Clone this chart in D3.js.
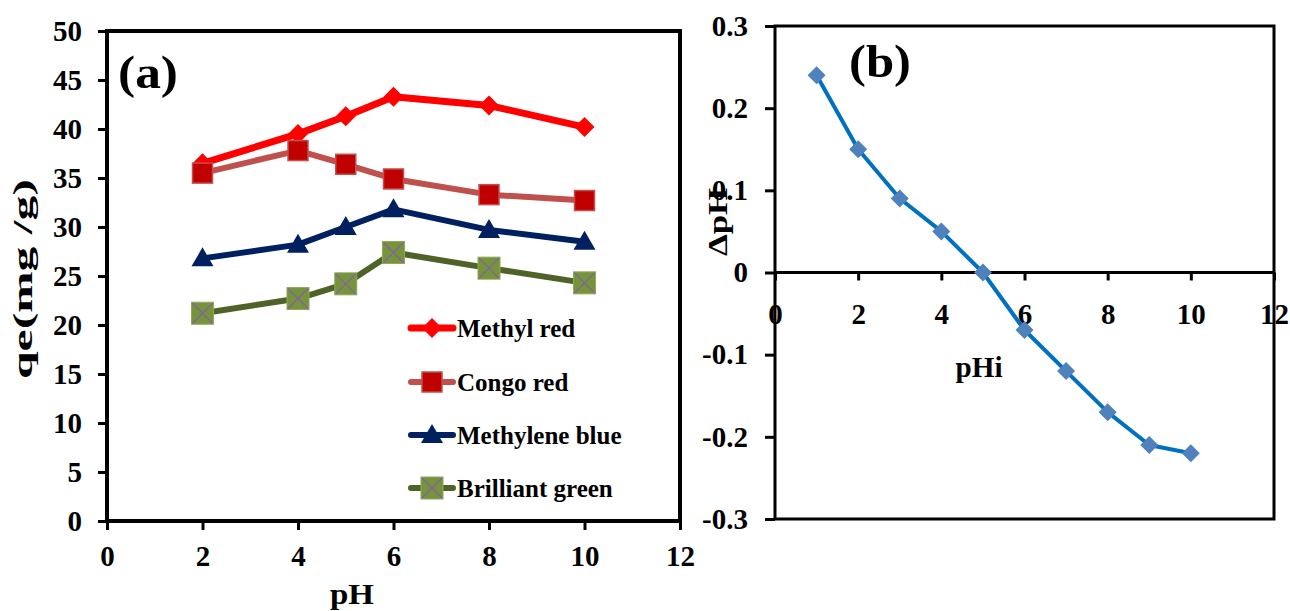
<!DOCTYPE html>
<html>
<head>
<meta charset="utf-8">
<script src="https://cdn.jsdelivr.net/npm/d3@7"></script>
<style>
  body { margin: 0; background: #fff; }
  svg { display: block; font-family: "Liberation Serif", "Times New Roman", serif; font-weight: bold; }
  svg text { font-family: "Liberation Serif", "Times New Roman", serif; font-weight: bold; }
</style>
</head>
<body>
<svg id="chart" width="1290" height="611"></svg>
<script>
// panel (a): adsorption capacity vs pH
const phValues = [2, 4, 5, 6, 8, 10];
const methylRed = [36.5, 39.5, 41.3, 43.3, 42.4, 40.2];
const congoRed = [35.5, 37.8, 36.4, 34.9, 33.3, 32.7];
const methyleneBlue = [26.8, 28.2, 30.0, 31.8, 29.7, 28.5];
const brilliantGreen = [21.2, 22.7, 24.2, 27.4, 25.8, 24.3];
const seriesNames = ["Methyl red", "Congo red", "Methylene blue", "Brilliant green"];
const qeTicks = [0, 5, 10, 15, 20, 25, 30, 35, 40, 45, 50];
const phTicks = [0, 2, 4, 6, 8, 10, 12];

// panel (b): point of zero charge
const phInitial = [1, 2, 3, 4, 5, 6, 7, 8, 9, 10];
const deltaPh = [0.24, 0.15, 0.09, 0.05, 0.0, -0.07, -0.12, -0.17, -0.21, -0.22];
const deltaTicks = [-0.3, -0.2, -0.1, 0, 0.1, 0.2, 0.3];
const phiTicks = [0, 2, 4, 6, 8, 10, 12];

const svg = d3.select("#chart");

const axisStyle = g => {
    g.attr("font-family", null).attr("font-size", null);
    g.select(".domain").remove();
    g.selectAll(".tick line").attr("stroke", "#000").attr("stroke-width", 3);
    g.selectAll(".tick text")
        .attr("fill", "#000")
        .attr("font-size", 29)
        .style("font-size", "29px");
};

// ---------- panel (a) ----------
const a = { left: 107, right: 680, top: 31, bottom: 521 };
const xA = d3.scaleLinear().domain([0, 12]).range([a.left, a.right]);
const yA = d3.scaleLinear().domain([0, 50]).range([a.bottom, a.top]);

const gA = svg.append("g");

gA.append("g")
    .attr("transform", `translate(${a.left},0)`)
    .call(d3.axisLeft(yA).tickValues(qeTicks).tickSize(9).tickPadding(16).tickFormat(d => String(d)))
    .call(axisStyle);

gA.append("g")
    .attr("transform", `translate(0,${a.bottom})`)
    .call(d3.axisBottom(xA).tickValues(phTicks).tickSize(9).tickPadding(15).tickFormat(d => String(d)))
    .call(axisStyle);

gA.append("rect")
    .attr("x", a.left).attr("y", a.top)
    .attr("width", a.right - a.left).attr("height", a.bottom - a.top)
    .attr("fill", "none").attr("stroke", "#000").attr("stroke-width", 4);

gA.append("text")
    .attr("transform", `translate(32,279) rotate(-90)`)
    .attr("text-anchor", "middle")
    .attr("textLength", 200)
    .attr("lengthAdjust", "spacingAndGlyphs")
    .style("font-size", "27px")
    .text("qe(mg /g)");

gA.append("text")
    .attr("x", 352).attr("y", 604)
    .attr("text-anchor", "middle")
    .attr("textLength", 44)
    .attr("lengthAdjust", "spacingAndGlyphs")
    .style("font-size", "30px")
    .text("pH");

gA.append("text")
    .attr("x", 118).attr("y", 88)
    .attr("textLength", 60)
    .attr("lengthAdjust", "spacingAndGlyphs")
    .style("font-size", "46px")
    .text("(a)");

const seriesA = [
    { name: seriesNames[0], values: methylRed, line: "#FF0000", width: 7, marker: "diamond", fill: "#FF0000", stroke: "#FF0000" },
    { name: seriesNames[1], values: congoRed, line: "#C0504D", width: 6, marker: "square", fill: "#C00000", stroke: "#C0504D" },
    { name: seriesNames[2], values: methyleneBlue, line: "#002060", width: 6, marker: "triangle", fill: "#002060", stroke: "#002060" },
    { name: seriesNames[3], values: brilliantGreen, line: "#4F6228", width: 6, marker: "xsquare", fill: "#77933C", stroke: "#8FA85A" }
];

function drawMarker(g, s, cx, cy) {
    if (s.marker === "diamond") {
        g.append("path")
            .attr("d", `M${cx},${cy - 10}L${cx + 10},${cy}L${cx},${cy + 10}L${cx - 10},${cy}Z`)
            .attr("fill", s.fill);
    } else if (s.marker === "square") {
        g.append("rect")
            .attr("x", cx - 10).attr("y", cy - 10).attr("width", 20).attr("height", 20)
            .attr("fill", s.fill).attr("stroke", s.stroke).attr("stroke-width", 1.5);
    } else if (s.marker === "triangle") {
        g.append("path")
            .attr("d", `M${cx},${cy - 11}L${cx + 11},${cy + 8}L${cx - 11},${cy + 8}Z`)
            .attr("fill", s.fill);
    } else {
        g.append("rect")
            .attr("x", cx - 11).attr("y", cy - 11).attr("width", 22).attr("height", 22)
            .attr("fill", s.fill).attr("stroke", s.stroke).attr("stroke-width", 1);
        g.append("path")
            .attr("d", `M${cx - 10},${cy - 10}L${cx + 10},${cy + 10}M${cx + 10},${cy - 10}L${cx - 10},${cy + 10}`)
            .attr("stroke", "#8064A2").attr("stroke-width", 1.3);
    }
}

const lineA = d3.line().x(d => xA(d[0])).y(d => yA(d[1]));

seriesA.forEach(s => {
    const pts = phValues.map((p, i) => [p, s.values[i]]);
    const g = gA.append("g");
    g.append("path")
        .attr("d", lineA(pts))
        .attr("fill", "none")
        .attr("stroke", s.line)
        .attr("stroke-width", s.width)
        .attr("stroke-linejoin", "round");
    pts.forEach(d => drawMarker(g, s, xA(d[0]), yA(d[1])));
});

// legend
const legendRows = [328, 382, 435, 488];
seriesA.forEach((s, i) => {
    const g = gA.append("g");
    const ly = legendRows[i];
    g.append("line")
        .attr("x1", 411).attr("x2", 453).attr("y1", ly).attr("y2", ly)
        .attr("stroke", s.line).attr("stroke-width", s.width)
        .attr("stroke-linecap", "round");
    drawMarker(g, s, 432, ly);
    g.append("text")
        .attr("x", 457).attr("y", ly + 9)
        .style("font-size", "25px")
        .text(s.name);
});

// ---------- panel (b) ----------
const b = { left: 775, right: 1274, top: 26, bottom: 519 };
const xB = d3.scaleLinear().domain([0, 12]).range([b.left, b.right]);
const yB = d3.scaleLinear().domain([-0.3, 0.3]).range([b.bottom, b.top]);

const gB = svg.append("g");

gB.append("g")
    .attr("transform", `translate(${b.left},0)`)
    .call(d3.axisLeft(yB).tickValues(deltaTicks).tickSize(10).tickPadding(17)
        .tickFormat(d => d === 0 ? "0" : d.toFixed(1)))
    .call(axisStyle);

gB.append("g")
    .attr("transform", `translate(0,${yB(0)})`)
    .call(d3.axisBottom(xB).tickValues(phiTicks).tickSize(8).tickPadding(23).tickFormat(d => String(d)))
    .call(axisStyle);

gB.append("rect")
    .attr("x", b.left).attr("y", b.top)
    .attr("width", b.right - b.left).attr("height", b.bottom - b.top)
    .attr("fill", "none").attr("stroke", "#000").attr("stroke-width", 3);

gB.append("line")
    .attr("x1", b.left).attr("x2", b.right)
    .attr("y1", yB(0)).attr("y2", yB(0))
    .attr("stroke", "#000").attr("stroke-width", 3);

gB.append("text")
    .attr("transform", `translate(727,222) rotate(-90)`)
    .attr("text-anchor", "middle")
    .attr("textLength", 68)
    .attr("lengthAdjust", "spacingAndGlyphs")
    .style("font-size", "27px")
    .text("ΔpH");

gB.append("text")
    .attr("x", 979).attr("y", 377)
    .attr("text-anchor", "middle")
    .attr("textLength", 47)
    .attr("lengthAdjust", "spacingAndGlyphs")
    .style("font-size", "29px")
    .text("pHi");

gB.append("text")
    .attr("x", 849).attr("y", 77)
    .attr("textLength", 62)
    .attr("lengthAdjust", "spacingAndGlyphs")
    .style("font-size", "46px")
    .text("(b)");

const ptsB = phInitial.map((p, i) => [p, deltaPh[i]]);
gB.append("path")
    .attr("d", d3.line().x(d => xB(d[0])).y(d => yB(d[1]))(ptsB))
    .attr("fill", "none")
    .attr("stroke", "#0070C0")
    .attr("stroke-width", 4)
    .attr("stroke-linejoin", "round");

gB.selectAll(".pt")
    .data(ptsB)
    .join("path")
    .attr("class", "pt")
    .attr("d", d => {
        const cx = xB(d[0]), cy = yB(d[1]);
        return `M${cx},${cy - 9}L${cx + 9},${cy}L${cx},${cy + 9}L${cx - 9},${cy}Z`;
    })
    .attr("fill", "#4F81BD");
</script>
</body>
</html>
